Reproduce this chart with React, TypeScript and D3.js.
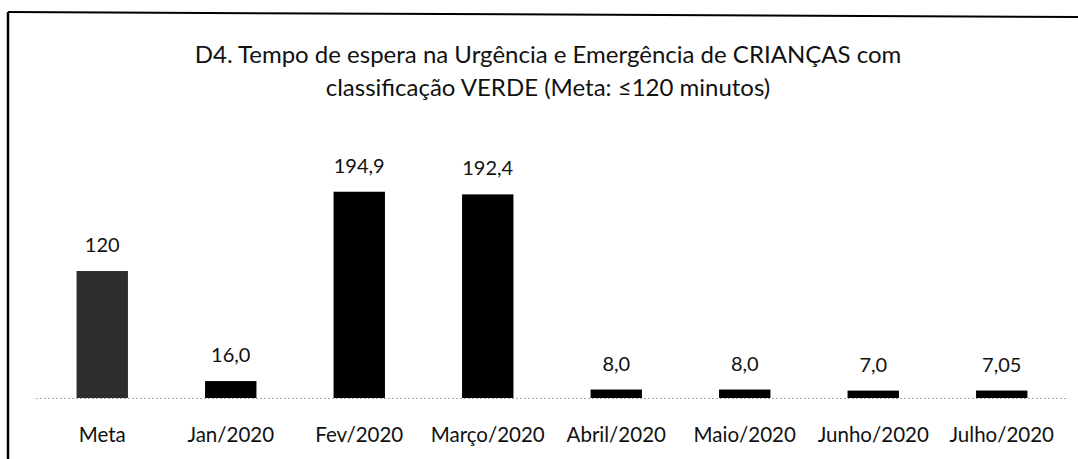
import React from "react";
import * as d3 from "d3";

const categories = ["Meta", "Jan/2020", "Fev/2020", "Março/2020", "Abril/2020", "Maio/2020", "Junho/2020", "Julho/2020"];
const values = [120, 16.0, 194.9, 192.4, 8.0, 8.0, 7.0, 7.05];
const valueLabels = ["120", "16,0", "194,9", "192,4", "8,0", "8,0", "7,0", "7,05"];
const titleLines = [
  "D4. Tempo de espera na Urgência e Emergência de CRIANÇAS com",
  "classificação VERDE (Meta: ≤120 minutos)",
];

const W = 1078;
const H = 459;
const FONT = "Lato, 'Open Sans', sans-serif";

export default function App() {
  const x = d3.scaleBand<string>().domain(categories).range([38, 1066]).paddingInner(0.6).paddingOuter(0.3);
  const y = d3.scaleLinear().domain([0, 240]).range([398, 144]);
  const bw = x.bandwidth();
  return (
    <svg width={W} height={H} style={{ position: "absolute", left: 0, top: 0, background: "#fff" }}>
      <line x1={8} y1={12} x2={W} y2={17} stroke="#000" strokeWidth={2} />
      <line x1={8} y1={12} x2={8} y2={H} stroke="#000" strokeWidth={2.5} />
      {titleLines.map((t, i) => (
        <text key={i} x={548} y={63 + i * 33} textAnchor="middle" fontFamily={FONT} fontSize={24} fill="#111">
          {t}
        </text>
      ))}
      <line x1={36} y1={398.5} x2={1066} y2={398.5} stroke="#aaa" strokeWidth={1} strokeDasharray="2,2" />
      {categories.map((c, i) => {
        const bx = x(c) as number;
        const top = y(values[i]);
        return (
          <g key={c}>
            <rect x={bx} y={top} width={bw} height={y(0) - top} fill={i === 0 ? "#2e2e2e" : "#000"} />
            <text x={bx + bw / 2} y={top - 19} textAnchor="middle" fontFamily={FONT} fontSize={20} fill="#111">
              {valueLabels[i]}
            </text>
            <text x={bx + bw / 2} y={442} textAnchor="middle" fontFamily={FONT} fontSize={20.5} fill="#111">
              {c}
            </text>
          </g>
        );
      })}
    </svg>
  );
}
